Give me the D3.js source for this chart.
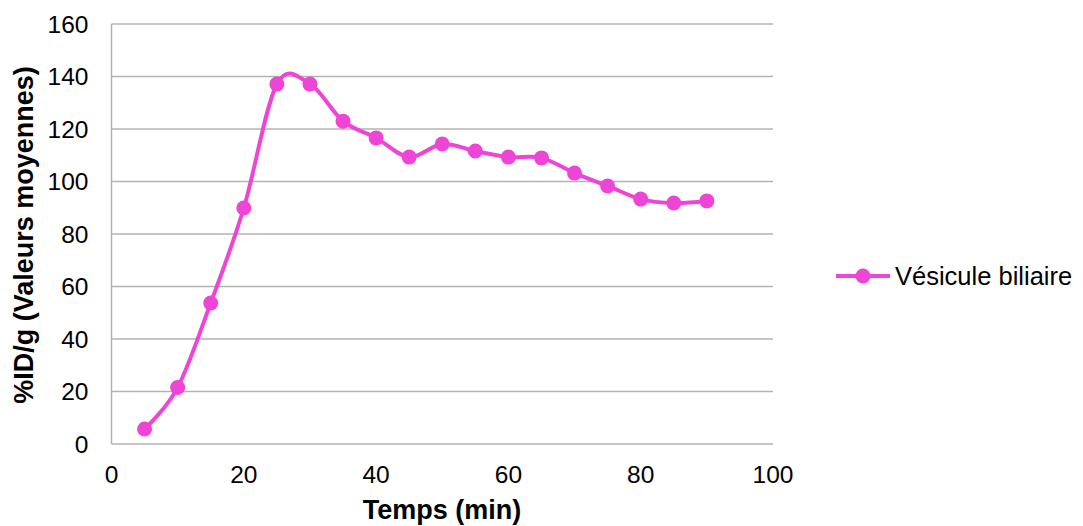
<!DOCTYPE html>
<html><head><meta charset="utf-8">
<script src="https://cdn.jsdelivr.net/npm/d3@7"></script>
<style>body{margin:0;background:#fff}svg{display:block}text{font-family:"Liberation Sans",Arial,sans-serif}</style>
</head><body>
<svg id="c" width="1083" height="526"></svg>
<script>
const times = [5,10,15,20,25,30,35,40,45,50,55,60,65,70,75,80,85,90];
const values = [5.7,21.5,53.7,89.9,137.1,137.1,123,116.6,109.3,114.3,111.6,109.3,109,103.2,98.3,93.3,91.8,92.6];
const seriesName = "Vésicule biliaire";
const xTicks = [0,20,40,60,80,100];
const yTicks = [0,20,40,60,80,100,120,140,160];
const color = "#EE45D6";

const svg = d3.select("#c");
const L=111.5, R=773, T=24, B=444;
const x = d3.scaleLinear().domain([0,100]).range([L,R]);
const y = d3.scaleLinear().domain([0,160]).range([B,T]);

svg.append("g").selectAll("line").data(yTicks).join("line")
  .attr("x1",L).attr("x2",R).attr("y1",d=>y(d)).attr("y2",d=>y(d))
  .attr("stroke","#b3b3b3").attr("stroke-width",1.5);
svg.append("line").attr("x1",L).attr("x2",L).attr("y1",T).attr("y2",B).attr("stroke","#b3b3b3").attr("stroke-width",1.5);

svg.append("g").selectAll("text").data(yTicks).join("text")
  .attr("x",88.5).attr("y",d=>y(d)+8.7).attr("text-anchor","end")
  .attr("font-size",24.5).attr("fill","#000").text(d=>d);
svg.append("g").selectAll("text").data(xTicks).join("text")
  .attr("x",d=>x(d)).attr("y",482.5).attr("text-anchor","middle")
  .attr("font-size",24.5).attr("fill","#000").text(d=>d);

svg.append("text").attr("x",442).attr("y",519).attr("text-anchor","middle")
  .attr("font-size",27).attr("font-weight","bold").text("Temps (min)");
svg.append("text").attr("transform","translate(33,235) rotate(-90)").attr("text-anchor","middle")
  .attr("font-size",27).attr("font-weight","bold").text("%ID/g (Valeurs moyennes)");

const pts = times.map((t,i)=>[t,values[i]]);
const line = d3.line().x(d=>x(d[0])).y(d=>y(d[1])).curve(d3.curveCardinal.tension(0));
svg.append("path").datum(pts).attr("d",line).attr("fill","none").attr("stroke",color).attr("stroke-width",4);
svg.append("g").selectAll("circle").data(pts).join("circle")
  .attr("cx",d=>x(d[0])).attr("cy",d=>y(d[1])).attr("r",7.5).attr("fill",color);

const lg = svg.append("g");
lg.append("line").attr("x1",836).attr("x2",890).attr("y1",276).attr("y2",276).attr("stroke",color).attr("stroke-width",4);
lg.append("circle").attr("cx",863).attr("cy",276).attr("r",7.5).attr("fill",color);
lg.append("text").attr("x",895).attr("y",284.5).attr("font-size",25.5).text(seriesName);
</script>
</body></html>
